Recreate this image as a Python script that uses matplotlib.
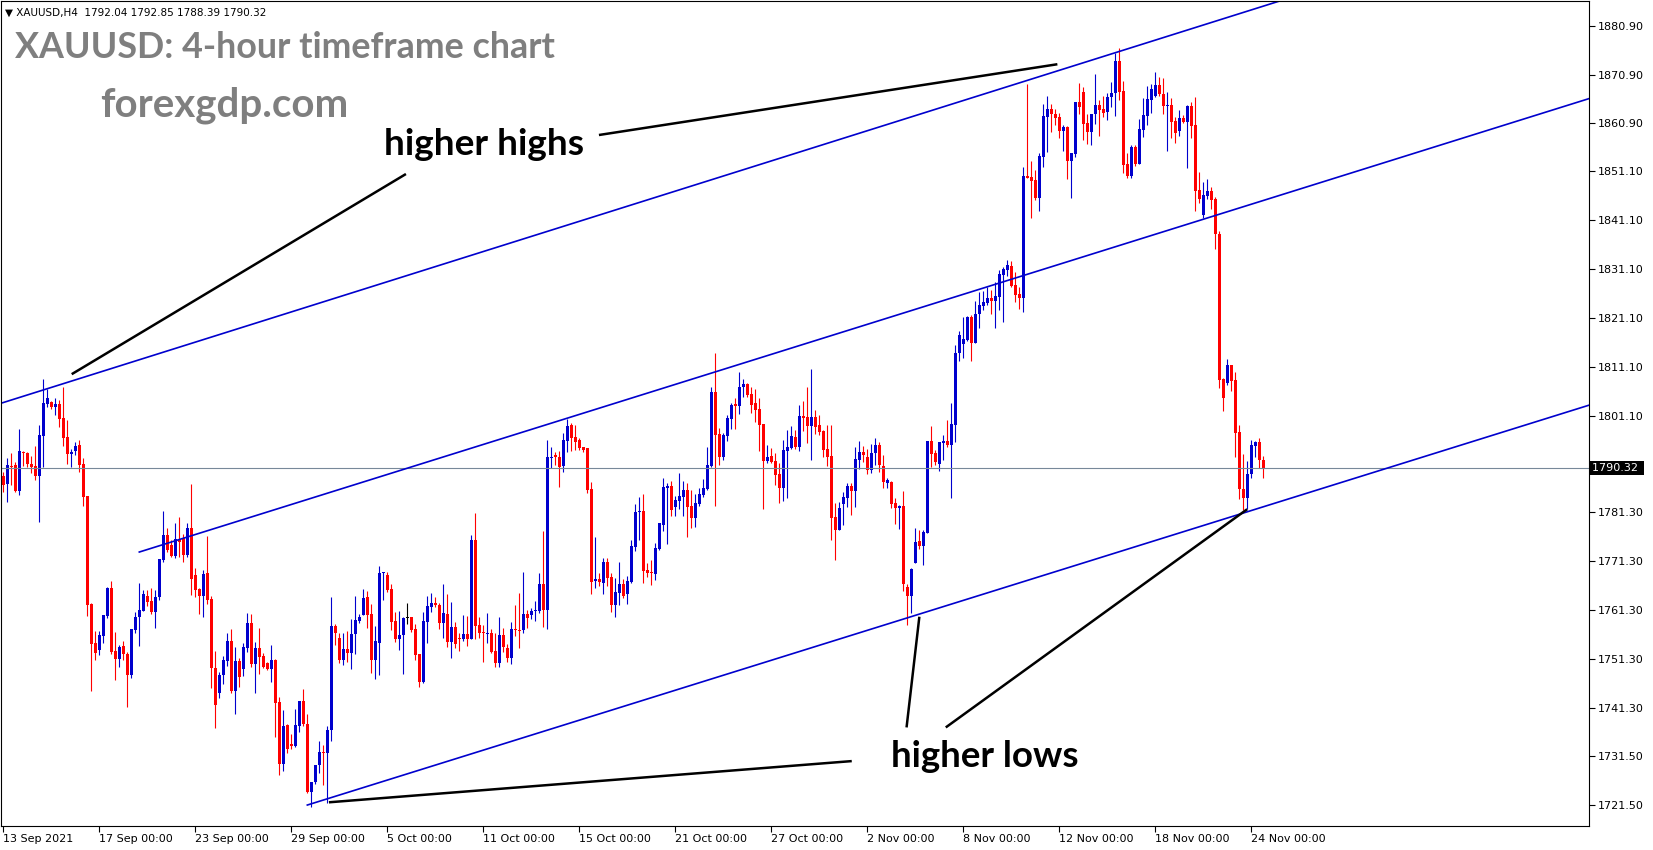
import numpy as np
import matplotlib.pyplot as plt

# XAUUSD H4 candles, 13 Sep 2021 00:00 onwards (one bar = 4 hours)
opens = [1788.74, 1787.03, 1790.79, 1790.99, 1785.74, 1793.65, 1793.45, 1791.13, 1790.72, 1788.81,
         1796.99, 1803.47, 1803.81, 1802.79, 1803.47, 1800.61, 1796.72, 1793.17, 1793.86, 1795.02,
         1791.13, 1784.65, 1762.55, 1754.50, 1753.13, 1756.07, 1760.09, 1765.75, 1752.93, 1751.22,
         1753.95, 1752.31, 1748.02, 1757.23, 1759.82, 1761.18, 1764.18, 1763.23, 1760.98, 1763.91,
         1771.55, 1776.67, 1774.62, 1772.44, 1775.64, 1775.98, 1772.57, 1778.03, 1768.48, 1765.62,
         1764.19, 1768.83, 1763.58, 1749.39, 1744.41, 1748.02, 1750.89, 1754.98, 1744.82, 1750.89,
         1749.25, 1753.62, 1758.67, 1750.28, 1753.62, 1751.91, 1750.55, 1749.25, 1751.09, 1742.43,
         1729.81, 1737.73, 1733.91, 1733.50, 1737.66, 1742.70, 1738.00, 1724.02, 1726.06, 1729.61,
         1732.27, 1732.13, 1736.77, 1758.05, 1755.66, 1751.09, 1753.35, 1752.59, 1756.41, 1759.14,
         1760.30, 1764.05, 1760.58, 1751.10, 1754.64, 1768.83, 1768.49, 1765.62, 1759.15, 1755.39,
         1756.21, 1759.62, 1759.83, 1757.44, 1752.32, 1746.66, 1758.87, 1762.01, 1762.83, 1762.35,
         1758.74, 1760.51, 1754.85, 1757.78, 1755.67, 1755.39, 1756.42, 1755.39, 1775.65, 1758.26,
         1756.76, 1756.49, 1756.55, 1752.94, 1750.55, 1756.21, 1753.48, 1751.57, 1757.37, 1757.30,
         1757.24, 1760.51, 1760.30, 1761.19, 1761.19, 1766.65, 1761.33, 1792.43, 1792.98, 1792.70,
         1790.79, 1795.97, 1799.18, 1796.79, 1796.11, 1794.61, 1794.40, 1786.08, 1767.32, 1767.66,
         1766.91, 1771.14, 1768.14, 1762.34, 1764.87, 1766.64, 1764.59, 1767.12, 1774.28, 1781.30,
         1781.58, 1769.51, 1769.16, 1768.69, 1773.80, 1778.71, 1786.35, 1786.76, 1782.33, 1783.62,
         1784.51, 1785.88, 1782.67, 1780.21, 1783.01, 1784.85, 1786.08, 1790.85, 1806.00, 1797.33,
         1792.56, 1796.99, 1800.40, 1803.41, 1803.13, 1806.89, 1807.57, 1805.53, 1803.75, 1802.46,
         1799.39, 1791.88, 1792.84, 1791.82, 1789.16, 1786.36, 1793.93, 1794.54, 1796.66, 1794.61,
         1801.02, 1800.75, 1799.05, 1800.75, 1799.18, 1798.02, 1794.27, 1792.84, 1780.29, 1777.70,
         1783.02, 1784.31, 1786.70, 1785.75, 1792.02, 1793.73, 1792.70, 1789.97, 1793.38, 1795.09,
         1790.79, 1787.38, 1787.59, 1783.29, 1782.13, 1782.68, 1766.10, 1764.19, 1771.01, 1775.45,
         1774.42, 1777.15, 1795.91, 1793.52, 1791.13, 1795.43, 1795.91, 1795.09, 1799.18, 1813.85,
         1815.76, 1816.58, 1821.35, 1816.03, 1821.90, 1823.60, 1824.21, 1825.24, 1824.62, 1825.44,
         1829.88, 1830.90, 1831.72, 1827.83, 1825.99, 1825.24, 1850.13, 1849.93, 1849.32, 1845.70,
         1854.09, 1862.28, 1863.84, 1862.82, 1862.14, 1859.41, 1860.23, 1853.27, 1854.64, 1865.34,
         1867.39, 1861.05, 1859.21, 1862.82, 1864.66, 1863.84, 1863.29, 1866.22, 1867.04, 1873.66,
         1867.52, 1852.58, 1850.13, 1856.13, 1852.58, 1859.54, 1862.47, 1865.68, 1866.50, 1868.75,
         1866.91, 1864.52, 1864.66, 1861.38, 1859.40, 1862.06, 1861.24, 1864.45, 1860.56, 1847.26,
         1842.15, 1846.10, 1847.06, 1845.42, 1838.26, 1808.52, 1807.84, 1811.45, 1808.38, 1797.67,
         1786.01, 1784.17, 1789.08, 1794.95, 1795.76, 1792.04]

highs = [1789.50, 1792.35, 1793.38, 1791.54, 1798.29, 1793.86, 1793.65, 1792.83, 1794.88, 1799.18,
         1808.52, 1806.47, 1804.15, 1804.70, 1804.29, 1806.88, 1800.20, 1794.20, 1795.76, 1796.11,
         1792.35, 1784.65, 1762.68, 1757.02, 1757.02, 1760.23, 1766.10, 1767.25, 1756.82, 1754.09,
         1755.04, 1752.79, 1757.43, 1760.84, 1766.77, 1765.41, 1765.41, 1765.75, 1765.41, 1771.75,
         1781.58, 1778.03, 1775.64, 1779.05, 1780.35, 1776.87, 1779.05, 1787.10, 1769.85, 1765.75,
         1769.51, 1776.47, 1764.19, 1752.94, 1748.64, 1751.91, 1756.62, 1757.44, 1753.82, 1751.57,
         1754.64, 1760.71, 1760.51, 1754.85, 1757.71, 1752.59, 1750.75, 1754.16, 1751.30, 1743.52,
         1740.93, 1738.00, 1735.88, 1741.07, 1742.70, 1745.09, 1740.04, 1726.06, 1729.61, 1734.52,
         1733.70, 1737.66, 1764.05, 1758.53, 1756.55, 1756.55, 1757.03, 1759.55, 1764.19, 1760.44,
         1765.62, 1765.21, 1762.56, 1758.05, 1770.40, 1769.04, 1769.10, 1766.65, 1760.92, 1761.12,
         1759.83, 1762.83, 1759.96, 1758.46, 1752.32, 1760.92, 1764.19, 1764.87, 1763.92, 1762.83,
         1766.65, 1764.53, 1762.96, 1758.87, 1756.69, 1760.30, 1760.10, 1776.68, 1781.18, 1759.83,
         1758.26, 1760.65, 1757.51, 1756.55, 1759.83, 1757.58, 1754.37, 1758.80, 1762.35, 1764.74,
         1769.10, 1761.33, 1761.67, 1763.17, 1768.83, 1777.49, 1796.11, 1794.75, 1793.73, 1793.86,
         1797.61, 1800.40, 1799.52, 1799.18, 1796.45, 1794.74, 1794.54, 1787.45, 1776.33, 1768.82,
         1771.89, 1771.89, 1768.82, 1767.80, 1771.07, 1767.66, 1768.28, 1775.64, 1783.01, 1784.38,
         1785.06, 1771.01, 1771.55, 1774.96, 1779.19, 1788.40, 1787.24, 1787.72, 1784.72, 1789.42,
         1787.72, 1787.24, 1785.88, 1785.06, 1786.22, 1788.06, 1794.74, 1807.02, 1813.98, 1798.49,
         1797.61, 1801.22, 1803.75, 1804.63, 1810.02, 1808.53, 1807.85, 1806.89, 1806.48, 1804.64,
         1799.39, 1795.09, 1794.41, 1793.38, 1791.48, 1796.11, 1798.16, 1798.98, 1798.16, 1803.28,
         1804.16, 1807.03, 1810.64, 1802.25, 1801.23, 1798.16, 1799.18, 1799.18, 1783.15, 1783.50,
         1785.54, 1787.38, 1787.38, 1794.75, 1795.98, 1794.95, 1794.27, 1795.29, 1796.59, 1795.77,
         1793.04, 1788.27, 1787.72, 1784.18, 1782.81, 1785.68, 1766.58, 1769.85, 1778.17, 1777.70,
         1777.70, 1795.98, 1798.98, 1794.07, 1795.63, 1797.13, 1800.21, 1803.62, 1815.55, 1818.42,
         1821.35, 1821.56, 1821.69, 1824.56, 1826.47, 1826.60, 1827.35, 1826.81, 1828.37, 1830.90,
         1831.58, 1832.95, 1832.74, 1830.42, 1827.35, 1852.04, 1868.96, 1853.20, 1851.36, 1854.77,
         1864.87, 1866.50, 1864.87, 1863.84, 1862.96, 1860.57, 1860.37, 1854.91, 1865.34, 1869.23,
         1868.41, 1862.75, 1862.82, 1871.01, 1865.69, 1866.50, 1867.18, 1869.29, 1875.23, 1876.40,
         1869.57, 1854.90, 1856.47, 1856.47, 1861.79, 1866.16, 1868.54, 1868.88, 1871.34, 1870.45,
         1870.11, 1867.25, 1866.02, 1862.27, 1863.63, 1862.61, 1864.66, 1865.34, 1866.36, 1851.01,
         1848.83, 1849.51, 1847.94, 1845.90, 1838.87, 1808.72, 1812.68, 1811.45, 1809.95, 1799.17,
         1793.17, 1791.81, 1796.11, 1795.90, 1796.58, 1792.85]

lows = [1785.50, 1783.49, 1786.90, 1785.53, 1784.85, 1790.85, 1790.65, 1789.42, 1787.92, 1779.39,
        1790.65, 1802.93, 1802.45, 1801.22, 1798.83, 1794.88, 1791.26, 1790.58, 1793.04, 1789.63,
        1782.60, 1760.09, 1744.74, 1751.09, 1752.11, 1754.50, 1759.61, 1752.25, 1746.99, 1749.72,
        1751.09, 1741.54, 1747.34, 1756.55, 1753.95, 1761.05, 1762.14, 1760.43, 1757.70, 1763.37,
        1771.21, 1773.26, 1772.23, 1772.03, 1772.23, 1771.14, 1772.23, 1764.39, 1764.05, 1760.57,
        1759.96, 1762.55, 1745.43, 1737.25, 1743.39, 1746.25, 1749.93, 1744.27, 1740.04, 1745.50,
        1747.89, 1752.80, 1749.73, 1744.41, 1748.30, 1749.39, 1749.05, 1746.66, 1735.41, 1727.63,
        1728.45, 1732.13, 1732.95, 1733.29, 1736.29, 1737.66, 1723.81, 1721.08, 1725.72, 1727.90,
        1725.52, 1721.76, 1734.52, 1754.16, 1750.41, 1750.14, 1750.75, 1749.25, 1752.39, 1758.60,
        1760.30, 1757.57, 1748.50, 1747.28, 1748.03, 1763.37, 1765.08, 1757.24, 1754.85, 1753.14,
        1748.23, 1758.46, 1756.76, 1751.10, 1745.50, 1746.46, 1754.64, 1760.92, 1762.01, 1757.37,
        1755.53, 1753.82, 1751.57, 1753.62, 1753.00, 1755.05, 1753.96, 1755.39, 1755.33, 1755.67,
        1750.76, 1754.51, 1752.46, 1749.73, 1749.73, 1752.80, 1750.76, 1750.28, 1756.01, 1753.62,
        1756.55, 1757.58, 1759.49, 1759.08, 1760.65, 1757.92, 1757.44, 1790.32, 1791.00, 1786.57,
        1789.63, 1793.72, 1793.92, 1794.06, 1794.06, 1793.72, 1785.33, 1764.59, 1765.75, 1766.30,
        1764.59, 1766.30, 1760.98, 1759.95, 1762.34, 1763.71, 1762.55, 1766.78, 1773.46, 1775.64,
        1766.91, 1768.00, 1766.44, 1767.46, 1773.60, 1777.55, 1774.76, 1780.62, 1780.62, 1781.99,
        1780.55, 1776.33, 1778.17, 1778.37, 1782.67, 1784.51, 1785.88, 1790.65, 1782.67, 1791.00,
        1792.01, 1795.97, 1798.36, 1798.36, 1801.43, 1804.98, 1804.84, 1801.71, 1799.86, 1793.93,
        1781.99, 1791.34, 1791.34, 1786.90, 1783.29, 1783.70, 1784.31, 1794.20, 1794.20, 1793.93,
        1798.02, 1795.57, 1792.02, 1797.34, 1797.14, 1792.57, 1790.79, 1775.65, 1771.56, 1777.70,
        1778.72, 1782.47, 1780.77, 1782.47, 1790.11, 1791.68, 1789.16, 1789.29, 1790.98, 1789.63,
        1786.22, 1786.22, 1782.13, 1778.92, 1777.90, 1765.28, 1758.26, 1760.65, 1770.88, 1773.81,
        1770.53, 1777.02, 1790.66, 1791.00, 1789.84, 1792.02, 1794.75, 1784.31, 1795.77, 1812.28,
        1812.96, 1816.44, 1812.28, 1815.89, 1819.10, 1822.71, 1823.67, 1821.90, 1819.10, 1822.71,
        1820.26, 1829.67, 1827.35, 1824.42, 1822.99, 1822.30, 1849.66, 1841.61, 1845.22, 1842.97,
        1852.04, 1855.11, 1859.21, 1860.57, 1857.98, 1855.32, 1849.59, 1845.56, 1854.09, 1862.82,
        1857.50, 1856.68, 1856.48, 1860.77, 1858.32, 1862.14, 1861.59, 1864.18, 1862.47, 1865.68,
        1850.81, 1849.79, 1849.79, 1852.24, 1852.58, 1858.18, 1860.56, 1863.09, 1866.36, 1866.57,
        1862.81, 1855.31, 1857.97, 1856.95, 1858.31, 1861.04, 1851.70, 1857.97, 1843.03, 1844.67,
        1841.46, 1845.42, 1843.30, 1835.12, 1806.68, 1802.11, 1807.36, 1806.20, 1792.56, 1784.03,
        1781.78, 1781.92, 1788.26, 1792.56, 1790.31, 1788.39]

closes = [1786.90, 1790.99, 1790.65, 1785.74, 1793.86, 1793.45, 1791.13, 1790.65, 1788.81, 1797.13,
          1803.68, 1804.70, 1802.79, 1803.47, 1800.47, 1796.58, 1793.17, 1793.65, 1794.88, 1790.99,
          1784.51, 1762.34, 1754.36, 1752.45, 1756.13, 1760.23, 1765.89, 1752.79, 1751.22, 1753.82,
          1752.25, 1748.09, 1757.43, 1759.89, 1761.32, 1764.59, 1763.02, 1760.98, 1764.05, 1771.75,
          1776.67, 1773.60, 1772.44, 1775.78, 1775.30, 1772.57, 1778.03, 1767.66, 1765.41, 1764.18,
          1768.69, 1763.37, 1749.52, 1741.89, 1748.02, 1751.09, 1754.98, 1744.82, 1750.89, 1747.55,
          1753.69, 1758.67, 1750.28, 1753.62, 1751.71, 1749.73, 1749.32, 1751.09, 1742.36, 1729.81,
          1737.59, 1732.95, 1733.50, 1737.73, 1742.70, 1738.00, 1724.02, 1726.06, 1729.61, 1732.27,
          1732.13, 1736.77, 1758.05, 1756.69, 1751.09, 1753.35, 1752.59, 1756.48, 1759.28, 1759.96,
          1763.85, 1760.30, 1751.10, 1754.98, 1768.90, 1769.04, 1765.42, 1758.94, 1755.39, 1756.21,
          1759.62, 1759.62, 1757.24, 1752.12, 1746.66, 1759.08, 1762.15, 1762.69, 1762.42, 1758.74,
          1760.65, 1754.85, 1757.78, 1754.37, 1755.39, 1756.42, 1755.39, 1775.65, 1758.12, 1756.69,
          1756.55, 1756.62, 1752.67, 1750.55, 1756.21, 1753.82, 1751.57, 1757.37, 1757.24, 1757.10,
          1760.51, 1759.76, 1761.19, 1761.33, 1766.65, 1761.33, 1792.57, 1792.57, 1792.70, 1790.66,
          1796.11, 1798.97, 1796.58, 1795.77, 1794.54, 1794.06, 1785.88, 1767.12, 1767.66, 1767.12,
          1771.14, 1767.94, 1762.34, 1764.94, 1766.64, 1764.25, 1767.26, 1774.42, 1781.37, 1781.65,
          1769.37, 1768.82, 1768.96, 1774.07, 1779.05, 1786.56, 1786.76, 1781.78, 1783.83, 1784.72,
          1785.88, 1782.46, 1780.21, 1783.15, 1785.06, 1786.35, 1790.99, 1806.00, 1797.13, 1792.56,
          1797.13, 1800.68, 1803.27, 1803.13, 1807.02, 1807.57, 1805.32, 1803.28, 1802.25, 1799.18,
          1791.88, 1792.70, 1791.68, 1788.95, 1786.36, 1794.07, 1794.61, 1796.93, 1794.61, 1801.02,
          1800.68, 1799.05, 1800.75, 1798.71, 1797.82, 1794.07, 1792.57, 1780.22, 1777.70, 1782.27,
          1784.52, 1786.70, 1785.75, 1792.16, 1793.73, 1793.04, 1789.97, 1793.52, 1795.09, 1790.98,
          1787.45, 1787.93, 1783.02, 1782.13, 1782.68, 1766.58, 1764.19, 1769.72, 1775.31, 1774.42,
          1777.36, 1795.98, 1793.25, 1791.55, 1795.63, 1795.91, 1795.09, 1799.32, 1813.98, 1817.60,
          1816.78, 1821.35, 1816.03, 1821.90, 1823.67, 1824.35, 1825.24, 1824.62, 1825.58, 1830.08,
          1831.10, 1831.92, 1827.62, 1825.78, 1825.24, 1850.13, 1849.79, 1849.11, 1845.70, 1854.23,
          1862.41, 1863.84, 1862.75, 1862.07, 1859.41, 1860.23, 1853.27, 1854.77, 1865.34, 1864.32,
          1860.77, 1859.21, 1862.82, 1864.66, 1863.64, 1863.09, 1866.36, 1867.18, 1873.66, 1867.38,
          1852.38, 1850.13, 1856.13, 1852.58, 1859.74, 1862.61, 1865.88, 1867.86, 1868.75, 1866.84,
          1864.52, 1864.66, 1861.24, 1858.99, 1862.06, 1861.24, 1864.45, 1860.36, 1847.13, 1845.35,
          1846.24, 1847.06, 1845.22, 1838.19, 1808.38, 1804.63, 1811.45, 1808.25, 1797.60, 1786.01,
          1784.17, 1789.15, 1795.08, 1795.76, 1792.01, 1790.32]

date_labels = ['13 Sep 2021', '17 Sep 00:00', '23 Sep 00:00', '29 Sep 00:00', '5 Oct 00:00',
               '11 Oct 00:00', '15 Oct 00:00', '21 Oct 00:00', '27 Oct 00:00', '2 Nov 00:00',
               '8 Nov 00:00', '12 Nov 00:00', '18 Nov 00:00', '24 Nov 00:00']
bars_per_label = 24

price_ticks = [1880.90, 1870.90, 1860.90, 1851.10, 1841.10, 1831.10, 1821.10, 1811.10, 1801.10,
               1781.30, 1771.30, 1761.30, 1751.30, 1741.30, 1731.50, 1721.50]
last_price = 1790.32
header = '\u25bc XAUUSD,H4  1792.04 1792.85 1788.39 1790.32'

# channel lines: two anchor points each (bar index, price), drawn out to the right edge
upper_channel = [(-0.15, 1803.74), (316.0, 1885.15)]
middle_channel = [(34.0, 1773.19), (275.4, 1834.99)]
lower_channel = [(76.0, 1721.42), (320.4, 1783.83)]

# hand drawn black pointers (bar index, price)
pointers = [
    [(17.1, 1809.58), (100.65, 1850.54)],
    [(148.9, 1858.52), (263.5, 1873.0)],
    [(81.4, 1721.98), (212.1, 1730.41)],
    [(229.0, 1759.95), (225.8, 1737.30)],
    [(310.95, 1781.95), (235.6, 1737.30)],
]

W, H = 1653, 850
bull = '#0000cd'
bear = '#ff0000'

fig = plt.figure(figsize=(W / 100, H / 100), dpi=100)
ax = fig.add_axes([1 / W, 24 / H, 1588 / W, 825 / H])

o = np.array(opens)
h = np.array(highs)
l = np.array(lows)
c = np.array(closes)
x = np.arange(len(c))

colors = np.where(c > o, bull, np.where(c < o, bear, 'black'))
ax.vlines(x, l, h, colors=colors, linewidth=0.8)
body = np.maximum(np.abs(c - o), 0.22)
ax.bar(x, body, bottom=np.minimum(o, c), width=0.75, color=colors, linewidth=0)

ax.axhline(last_price, color='#778899', linewidth=0.8)


def extend(pts, x_end):
    (x0, y0), (x1, y1) = pts
    k = (y1 - y0) / (x1 - x0)
    return [x0, x_end], [y0, y0 + k * (x_end - x0)]


for pts in (upper_channel, middle_channel, lower_channel):
    xs, ys = extend(pts, 420)
    ax.plot(xs, ys, color='#0000cd', linewidth=1.2)

for seg in pointers:
    ax.plot([p[0] for p in seg], [p[1] for p in seg], color='black', linewidth=1.8,
            solid_capstyle='butt')

ax.set_xlim(-0.575, 396.4)
ax.set_ylim(1717.13, 1885.94)

ax.yaxis.tick_right()
ax.set_yticks(price_ticks)
ax.set_yticklabels(['%.2f' % v for v in price_ticks])
ax.set_xticks(np.arange(len(date_labels)) * bars_per_label)
ax.set_xticklabels(date_labels, ha='left')
ax.tick_params(axis='both', direction='out', length=4, width=0.8, labelsize=8, pad=2,
               colors='black')
for s in ax.spines.values():
    s.set_linewidth(0.8)
    s.set_color('black')

ax.text(1.002, last_price, '1790.32 ', transform=ax.get_yaxis_transform(), ha='left',
        va='center', color='white', fontsize=8,
        bbox=dict(facecolor='black', edgecolor='none', pad=1.5))


def fx(px):
    return px / W


def fy(py):
    return 1 - py / H


fig.text(fx(5), fy(13), header, fontsize=7.5, va='center', color='black')
fig.text(fx(15), fy(58), 'XAUUSD: 4-hour timeframe chart', family='Lato', weight='bold',
         fontsize=25.8, color='#7f7f7f', va='baseline')
fig.text(fx(100), fy(116), 'forexgdp.com', family='Lato', weight='bold',
         fontsize=29, color='#7f7f7f', va='baseline')
fig.text(fx(384), fy(155), 'higher highs', family='Lato', weight='bold',
         fontsize=26.6, color='black', va='baseline')
fig.text(fx(891), fy(767), 'higher lows', family='Lato', weight='bold',
         fontsize=26.4, color='black', va='baseline')

fig.savefig('out.png', dpi=100)
